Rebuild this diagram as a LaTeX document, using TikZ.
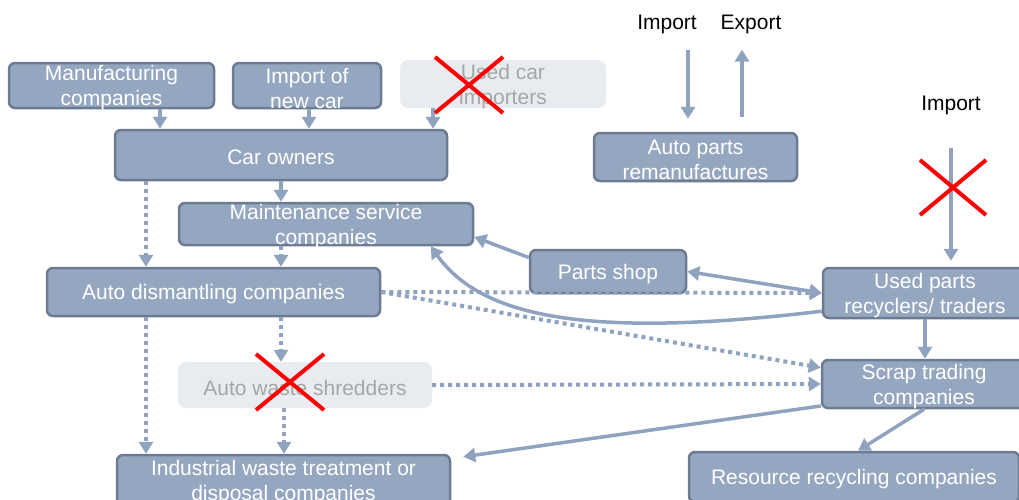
\documentclass[tikz,border=0pt]{standalone}
\usepackage{fontspec}
\setmainfont{Liberation Sans}
\usetikzlibrary{arrows.meta}
\definecolor{boxfill}{HTML}{95A7C0}
\definecolor{boxline}{HTML}{6B7B91}
\definecolor{arr}{HTML}{8FA2BE}
\definecolor{ghostfill}{HTML}{E8ECF1}
\definecolor{ghosttext}{HTML}{A6A6A6}
\begin{document}
\begin{tikzpicture}[x=1pt,y=-1pt,
 box/.style={draw=boxline, fill=boxfill, line width=2.5pt, rounded corners=6pt, inner sep=0pt},
 ghost/.style={fill=ghostfill, rounded corners=8pt, inner sep=0pt},
 txt/.style={text=white, font=\fontsize{21}{25}\selectfont, align=center, inner sep=0pt, yshift=-2.5pt},
 gtxt/.style={txt, text=ghosttext},
 lbl/.style={text=black, font=\fontsize{21}{25}\selectfont, inner sep=0pt},
 flow/.style={draw=arr, line width=3.5pt, -{Triangle[length=12pt,width=14pt]}},
 dflow/.style={flow, line width=4pt, dash pattern=on 4pt off 4pt},
 cross/.style={draw=red, line width=4pt}]
\useasboundingbox (0,0) rectangle (1019,499);

% boxes
\node[box, minimum width=205pt, minimum height=45pt] (man) at (111.5,85.5) {};
\node[txt] at (man.center) {Manufacturing\\companies};
\node[box, minimum width=148pt, minimum height=45pt] (imp) at (307,85.5) {};
\node[txt] at (imp.center) {Import of\\new car};
\node[ghost, minimum width=206pt, minimum height=48pt] (usedcar) at (503,84) {};
\node[gtxt] at (usedcar.center) {Used car\\importers};
\node[box, minimum width=332pt, minimum height=50pt] (owners) at (281,155) {};
\node[txt] at (owners.center) {Car owners};
\node[box, minimum width=294pt, minimum height=42pt] (maint) at (326,224) {};
\node[txt] at (maint.center) {Maintenance service\\companies};
\node[box, minimum width=156pt, minimum height=43pt] (parts) at (608,271.5) {};
\node[txt] at (parts.center) {Parts shop};
\node[box, minimum width=333pt, minimum height=48pt] (dism) at (213.5,292) {};
\node[txt] at (dism.center) {Auto dismantling companies};
\node[box, minimum width=203pt, minimum height=48pt] (reman) at (695.5,157) {};
\node[txt] at (reman.center) {Auto parts\\remanufactures};
\node[box, minimum width=204pt, minimum height=50pt] (usedp) at (925,293) {};
\node[txt] at (usedp.center) {Used parts\\recyclers/ traders};
\node[box, minimum width=204pt, minimum height=48pt] (scrap) at (924,384) {};
\node[txt] at (scrap.center) {Scrap trading\\companies};
\node[ghost, minimum width=254pt, minimum height=46pt] (shred) at (305,385) {};
\node[gtxt] at (shred.center) {Auto waste shredders};
\node[box, minimum width=333pt, minimum height=54pt] (ind) at (283.5,482) {};
\node[txt] at (283.5,480) {Industrial waste treatment or\\disposal companies};
\node[box, minimum width=330pt, minimum height=50pt] (res) at (854,477) {};
\node[txt] at (res.center) {Resource recycling companies};

% labels
\node[lbl] (impA) at (667,24) {Import};
\node[lbl] (expA) at (751,24) {Export};
\node[lbl] (impB) at (951,105) {Import};

% arrows
\draw[flow] (160,0 |- man.south) -- (160,0 |- owners.north);
\draw[flow] (309,0 |- imp.south) -- (309,0 |- owners.north);
\draw[flow] (433,0 |- usedcar.south) -- (433,0 |- owners.north);
\draw[flow] (281,0 |- owners.south) -- (281,0 |- maint.north);
\draw[dflow] (146,0 |- owners.south) -- (146,0 |- dism.north);
\draw[dflow] (281,0 |- maint.south) -- (281,0 |- dism.north);
\draw[flow, shorten <=16pt, shorten >=13pt] (688,0 |- impA.south) -- (688,0 |- reman.north);
\draw[flow, shorten <=15pt, shorten >=16pt] (742,0 |- reman.north) -- (742,0 |- expA.south);
\draw[flow, shorten <=33pt, shorten >=6pt] (951,0 |- impB.south) -- (951,0 |- usedp.north);
\draw[flow, {Triangle[length=12pt,width=14pt]}-{Triangle[length=12pt,width=14pt]}] (parts.east) -- (usedp.west);
\draw[flow] (parts.170) -- (maint.355);
\draw[flow] (usedp.190) .. controls (580,340) and (480,315) .. (maint.348);
\draw[dflow] (dism.east) -- (usedp.west);
\draw[dflow] (dism.east) -- (scrap.171);
\draw[dflow] (281,0 |- dism.south) -- (281,0 |- shred.north);
\draw[dflow] (146,0 |- dism.south) -- (146,0 |- ind.north);
\draw[dflow] (284,0 |- shred.south) -- (284,0 |- ind.north);
\draw[dflow] (shred.east) -- (scrap.west);
\draw[flow] (925,0 |- usedp.south) -- (925,0 |- scrap.north);
\draw[flow] (scrap.192) -- ([xshift=12pt,yshift=-3pt]ind.north east);
\draw[flow] (924,0 |- scrap.south) -- (858,0 |- res.north);

% red crosses
\draw[cross] (435,57) -- (503,113) (503,57) -- (435,113);
\draw[cross] (256,354) -- (324,410) (324,354) -- (256,410);
\draw[cross] (920,160) -- (986,215) (986,160) -- (920,215);
\end{tikzpicture}
\end{document}
